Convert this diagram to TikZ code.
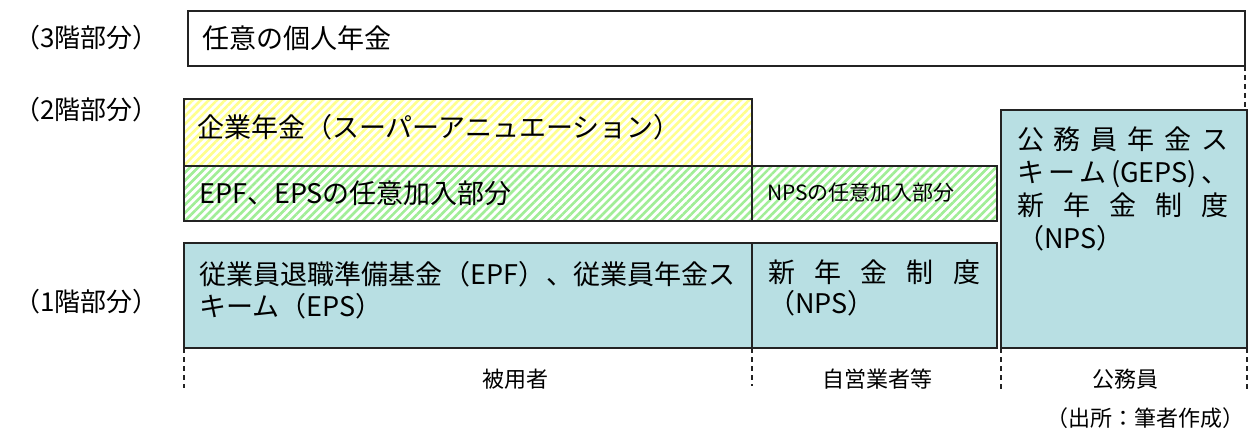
\documentclass[tikz,border=0pt]{standalone}
\usepackage{fontspec}
\setmainfont{Noto Sans CJK JP}
\usetikzlibrary{patterns.meta}
\definecolor{boxblue}{RGB}{184,223,227}
\definecolor{hatchyellow}{RGB}{255,255,140}
\definecolor{hatchgreen}{RGB}{160,238,150}
\definecolor{edge}{RGB}{35,35,35}
\begin{document}
\begin{tikzpicture}[x=1pt,y=-1pt,
  tier/.style={draw=edge, line width=1.2pt, anchor=north west, inner sep=0pt, outer sep=0pt},
  plainbox/.style={tier, fill=white},
  hatchY/.style={tier, preaction={fill=white}, pattern={Lines[angle=45,distance=5.7pt,line width=2.6pt]}, pattern color=hatchyellow},
  hatchG/.style={tier, preaction={fill=white}, pattern={Lines[angle=45,distance=5.7pt,line width=2.6pt]}, pattern color=hatchgreen},
  bluebox/.style={tier, fill=boxblue},
  boxtext/.style={anchor=west, inner sep=0pt, font=\fontsize{27}{33}\selectfont},
  mltext/.style={anchor=north west, inner sep=0pt, align=left, font=\fontsize{27}{32}\selectfont},
  smalltext/.style={anchor=west, inner sep=0pt, font=\fontsize{21}{26}\selectfont},
  floor/.style={anchor=west, inner sep=0pt, font=\fontsize{26}{28}\selectfont},
  group/.style={anchor=center, inner sep=0pt, font=\fontsize{22}{26}\selectfont},
  divider/.style={draw=edge, line width=1.2pt, dash pattern=on 5pt off 4pt}
]
\useasboundingbox (0,0) rectangle (1249,430);

% boxes
\node[plainbox, minimum width=1057pt, minimum height=55pt] (p3) at (188,11) {};
\node[hatchY, minimum width=568pt, minimum height=67pt] (corp) at (184,99) {};
\node[hatchG, minimum width=568pt, minimum height=55pt] (epfv) at (184,166) {};
\node[hatchG, minimum width=245pt, minimum height=55pt] (npsv) at (752,166) {};
\node[bluebox, minimum width=568pt, minimum height=105pt] (epf) at (184,243) {};
\node[bluebox, minimum width=245pt, minimum height=105pt] (nps) at (752,243) {};
\node[bluebox, minimum width=246pt, minimum height=238pt] (gov) at (1001,110) {};

% box texts
\node[boxtext] (t3) at (202,38) {任意の個人年金};
\node[boxtext] (tcorp) at (197,127) {企業年金（スーパーアニュエーション）};
\node[boxtext] (tepfv) at (199,193) {EPF、EPSの任意加入部分};
\node[smalltext] (tnpsv) at (767,193) {NPSの任意加入部分};
\node[mltext] (tepf) at (199,261) {\hbox to 536pt{従業員退職準備基金\hfill（EPF）\hfill、従業員年金ス}\\キーム（EPS）};
\node[mltext, font=\fontsize{27}{31}\selectfont] (tnps) at (768,260) {\hbox to 212pt{新\hfill 年\hfill 金\hfill 制\hfill 度}\\（NPS）};
\node[mltext, font=\fontsize{27}{33}\selectfont] (tgov) at (1017,127) {\hbox to 211pt{公\hfill 務\hfill 員\hfill 年\hfill 金\hfill ス}\\
\hbox to 211pt{キ\hfill ー\hfill ム\hfill (GEPS)\hfill 、}\\
\hbox to 211pt{新\hfill 年\hfill 金\hfill 制\hfill 度}\\（NPS）};

% floor labels
\node[floor] (f3) at (14,38) {（3階部分）};
\node[floor] (f2) at (14,110) {（2階部分）};
\node[floor] (f1) at (14,302) {（1階部分）};

% dividers
\coordinate (d0) at (184,388);
\coordinate (d1) at (752,386);
\coordinate (d2) at (1001,390);
\coordinate (d3) at (1247,392);
\draw[divider] (epf.south west) -- (d0);
\draw[divider] (nps.south west) -- (d1);
\draw[divider] (gov.south west) -- (d2);
\draw[divider] (gov.south east) -- (d3);
\draw[divider] (p3.south east) -- (p3.south east |- gov.north);

% group labels
\node[group] (g1) at (515,379) {被用者};
\node[group] (g2) at (877,379) {自営業者等};
\node[group] (g3) at (1125,379) {公務員};
\node[group, font=\fontsize{22}{26}\selectfont] (src) at (1145,418) {（出所：筆者作成）};
\end{tikzpicture}
\end{document}
